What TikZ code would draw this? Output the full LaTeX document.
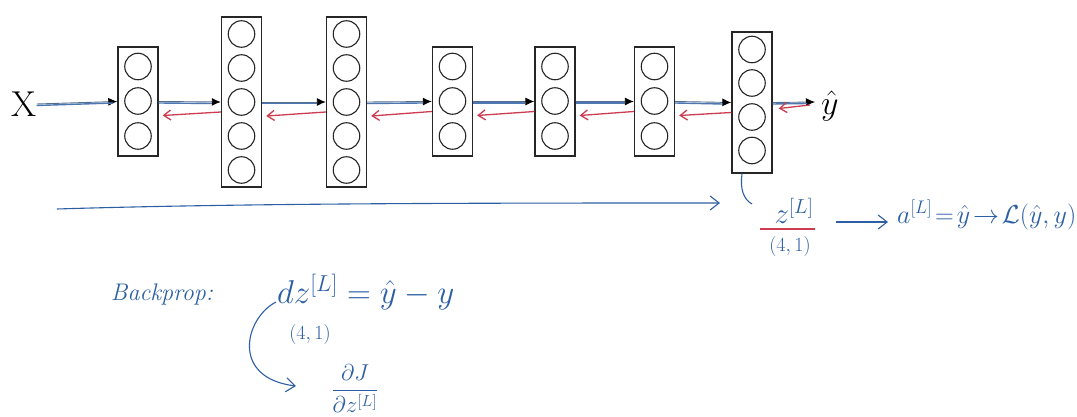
\RequirePackage{fix-cm}
\documentclass[tikz,border=0pt]{standalone}
\usepackage{amsmath}
\usetikzlibrary{arrows.meta}
\definecolor{hand}{RGB}{45,95,165}
\definecolor{handred}{RGB}{205,60,80}
\definecolor{fwd}{RGB}{85,110,140}
\tikzset{
  layerbox/.style={draw=black!85, line width=1.4pt, minimum width=40pt, inner sep=0pt},
  unit/.style={circle, draw=black!85, line width=1.1pt, minimum size=26.5pt, inner sep=0pt},
  fwdarrow/.style={draw=fwd, line width=0.9pt, -{Latex[length=9pt,width=8pt,black]}},
  fwdpen/.style={draw=hand!85, line width=1.4pt},
  backarrow/.style={draw=handred, line width=1.3pt, -{Straight Barb[length=7pt,width=10pt]}},
  handline/.style={draw=hand, line width=1.1pt},
  handarrow/.style={draw=hand, line width=1.1pt, -{Straight Barb[length=9pt,width=14pt]}},
  handtext/.style={text=hand, inner sep=0pt},
}
\begin{document}
\begin{tikzpicture}[x=1pt,y=-1pt]
\useasboundingbox[fill=white] (0,0) rectangle (1077,417);

% ---- layers ----
\node[layerbox, minimum height=109pt] (L1) at (138,101.5) {};
\node[layerbox, minimum height=170pt] (L2) at (241.5,102) {};
\node[layerbox, minimum height=170pt] (L3) at (346.5,102) {};
\node[layerbox, minimum height=109pt] (L4) at (452.5,101.5) {};
\node[layerbox, minimum height=109pt] (L5) at (555,101.5) {};
\node[layerbox, minimum height=109pt] (L6) at (654.5,101.5) {};
\node[layerbox, minimum height=141pt] (L7) at (752,102.5) {};

\foreach \L/\x in {1/138,4/452.5,5/555,6/654.5}{
  \foreach \y [count=\i] in {66.5,101,136}
    \node[unit] (L\L c\i) at (\x,\y) {};
}
\foreach \L/\x in {2/241.5,3/346.5}{
  \foreach \y [count=\i] in {34,68,102,136,170}
    \node[unit] (L\L c\i) at (\x,\y) {};
}
\foreach \y [count=\i] in {49.5,83,117,150.5}
  \node[unit] (L7c\i) at (752,\y) {};

% ---- input / output ----
\node[inner sep=0pt, font=\fontsize{36}{40}\selectfont] (X) at (24,104) {X};
\node[inner sep=0pt, anchor=west, font=\fontsize{34}{38}\selectfont] (yhat) at (821,106) {$\hat{y}$};

% ---- forward arrows ----
\draw[fwdarrow] (X.east) -- (L1.west);
\draw[fwdpen] ([yshift=-1.5pt]X.east) -- ([xshift=-4pt,yshift=-1.5pt]L1.west);
\foreach \a/\b in {L1/L2,L2/L3,L3/L4,L4/L5,L5/L6,L6/L7}{
  \draw[fwdarrow] (\a.east) -- (\b.west);
  \draw[fwdpen] ([yshift=-1.5pt]\a.east) -- ([xshift=-9pt,yshift=-1.5pt]\b.west);
  \draw[backarrow] ([yshift=-10pt]\b.west) -- ([xshift=4pt,yshift=-14pt]\a.east);
}
\coordinate (outend) at (815,102);
\draw[fwdarrow] (L7.east) -- (outend);
\draw[fwdpen] ([yshift=-1.5pt]L7.east) -- ([xshift=-8pt,yshift=-1.5pt]outend);
\draw[backarrow] ([xshift=-5pt,yshift=-3pt]outend) -- ([xshift=6pt,yshift=-6pt]L7.east);

% ---- long forward arrow ----
\coordinate (lstart) at (57,209);
\coordinate (lend) at (720,203);
\draw[handarrow] (lstart) .. controls (250,203) and (500,203) .. (lend);

% ---- z[L] annotation ----
\coordinate (ztop) at ([xshift=-10pt]L7.south);
\coordinate (zcurve) at (752,204);
\draw[handline] (ztop) .. controls (740,188) and (743,199) .. (zcurve);
\node[handtext, font=\fontsize{29}{32}\selectfont] (z) at (794,211) {$z^{[L]}$};
\draw[draw=handred, line width=1.2pt] (760,229) -- (815,229);
\node[handtext, font=\fontsize{20}{23}\selectfont] (dimA) at (790,247) {$(4,1)$};
\node[handtext, anchor=west, font=\fontsize{26}{30}\selectfont] (aeq) at (897,215)
  {$a^{[L]}\!=\!\hat{y}\!\to\!\mathcal{L}(\hat{y},y)$};
\draw[handarrow] ([xshift=22pt,yshift=-11pt]z.east) -- ([xshift=-9pt,yshift=-7pt]aeq.west);

% ---- backprop ----
\node[handtext, font=\fontsize{24}{27}\selectfont\itshape] (bp) at (162,294) {Backprop:};
\node[handtext, anchor=west, font=\fontsize{33}{36}\selectfont] (dz) at (277,292)
  {$dz^{[L]} = \hat{y} - y$};
\node[handtext, font=\fontsize{20}{23}\selectfont] (dimB) at (310,334) {$(4,1)$};
\coordinate (cstart) at (276,302);
\coordinate (cend) at (296,386);
\draw[handarrow] (cstart) .. controls (245,318) and (230,378) .. (cend);
\node[handtext, font=\fontsize{23}{26}\selectfont] (grad) at (355,389)
  {$\dfrac{\partial J}{\partial z^{[L]}}$};
\end{tikzpicture}
\end{document}
